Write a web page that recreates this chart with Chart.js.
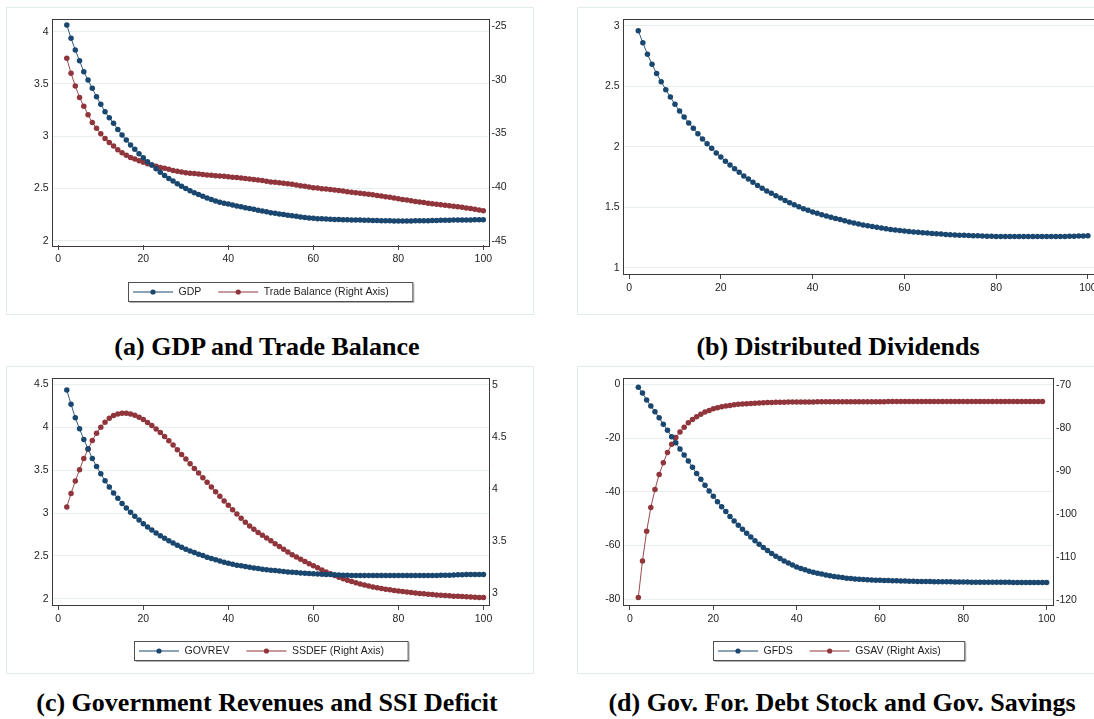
<!DOCTYPE html>
<html>
<head>
<meta charset="utf-8">
<title>Transition paths</title>
<script src="https://cdn.jsdelivr.net/npm/chart.js@4.4.1/dist/chart.umd.min.js"></script>
<style>
  html, body { margin: 0; padding: 0; background: #fff; }
  body { position: relative; width: 1094px; height: 719px; overflow: hidden; }
  .panel { position: absolute; outline: 1px solid #e2ebee; outline-offset: -1px; background: #fff; }
  .panel canvas { position: absolute; left: 0; top: 0; }
  .caption { position: absolute; width: 600px; text-align: center; white-space: nowrap;
    font: bold 26px/26px "Liberation Serif", "Times New Roman", serif; color: #000; }
</style>
</head>
<body>
<div class="panel" style="left:6px;top:7px;width:528px;height:308px"><canvas id="gdpChart" width="528" height="308"></canvas></div>
<div class="panel" style="left:577px;top:7px;width:564px;height:308px"><canvas id="divChart" width="564" height="308"></canvas></div>
<div class="panel" style="left:6px;top:366px;width:528px;height:308px"><canvas id="govChart" width="528" height="308"></canvas></div>
<div class="panel" style="left:577px;top:366px;width:540px;height:308px"><canvas id="debtChart" width="540" height="308"></canvas></div>

<div class="caption" style="left:-33px;top:334px">(a) GDP and Trade Balance</div>
<div class="caption" style="left:538px;top:334px">(b) Distributed Dividends</div>
<div class="caption" style="left:-33px;top:690px">(c) Government Revenues and SSI Deficit</div>
<div class="caption" style="left:542px;top:690px">(d) Gov. For. Debt Stock and Gov. Savings</div>

<script>
// periods 2..100
const periods = Array.from({ length: 99 }, (_, i) => i + 2);
const xTicks = [0, 20, 40, 60, 80, 100];

const gdp = [4.064, 3.936, 3.825, 3.722, 3.617, 3.537, 3.458, 3.378, 3.305, 3.234,
  3.177, 3.123, 3.065, 3.011, 2.963, 2.915, 2.874, 2.833, 2.794, 2.756,
  2.724, 2.689, 2.654, 2.625, 2.596, 2.571, 2.545, 2.520, 2.500, 2.479,
  2.460, 2.442, 2.425, 2.409, 2.394, 2.381, 2.369, 2.359, 2.351, 2.342,
  2.333, 2.324, 2.316, 2.308, 2.300, 2.292, 2.284, 2.276, 2.268, 2.262,
  2.256, 2.250, 2.244, 2.238, 2.233, 2.228, 2.223, 2.218, 2.214, 2.211,
  2.209, 2.207, 2.205, 2.203, 2.202, 2.201, 2.200, 2.199, 2.198, 2.197,
  2.196, 2.195, 2.194, 2.193, 2.192, 2.191, 2.190, 2.189, 2.189, 2.189,
  2.189, 2.189, 2.190, 2.190, 2.191, 2.192, 2.193, 2.194, 2.195, 2.196,
  2.196, 2.197, 2.197, 2.198, 2.199, 2.199, 2.200, 2.200, 2.201];

const tradeBalance = [-28.01, -29.41, -30.59, -31.65, -32.48, -33.26, -33.98, -34.53, -35.03, -35.47,
  -35.84, -36.18, -36.52, -36.80, -37.05, -37.24, -37.39, -37.55, -37.70, -37.83,
  -37.95, -38.07, -38.17, -38.26, -38.35, -38.45, -38.54, -38.60, -38.66, -38.71,
  -38.75, -38.79, -38.84, -38.88, -38.91, -38.94, -38.97, -39.00, -39.04, -39.08,
  -39.12, -39.17, -39.21, -39.25, -39.30, -39.35, -39.40, -39.46, -39.52, -39.56,
  -39.61, -39.65, -39.70, -39.75, -39.81, -39.87, -39.93, -40.00, -40.06, -40.10,
  -40.15, -40.19, -40.24, -40.28, -40.33, -40.38, -40.43, -40.48, -40.53, -40.58,
  -40.63, -40.68, -40.73, -40.78, -40.84, -40.90, -40.96, -41.03, -41.09, -41.15,
  -41.21, -41.28, -41.34, -41.40, -41.45, -41.50, -41.55, -41.60, -41.65, -41.70,
  -41.75, -41.80, -41.84, -41.89, -41.95, -42.01, -42.07, -42.14, -42.20];

const dividends = [2.961, 2.862, 2.766, 2.683, 2.606, 2.539, 2.473, 2.412, 2.352, 2.297,
  2.247, 2.197, 2.153, 2.109, 2.065, 2.026, 1.988, 1.949, 1.916, 1.880,
  1.850, 1.819, 1.789, 1.759, 1.734, 1.706, 1.681, 1.657, 1.634, 1.615,
  1.596, 1.577, 1.557, 1.538, 1.521, 1.505, 1.488, 1.475, 1.461, 1.450,
  1.439, 1.428, 1.418, 1.408, 1.398, 1.389, 1.379, 1.370, 1.361, 1.354,
  1.347, 1.340, 1.334, 1.328, 1.323, 1.317, 1.312, 1.307, 1.303, 1.299,
  1.296, 1.293, 1.290, 1.287, 1.284, 1.281, 1.278, 1.275, 1.273, 1.271,
  1.269, 1.268, 1.266, 1.265, 1.264, 1.262, 1.261, 1.260, 1.259, 1.259,
  1.258, 1.258, 1.258, 1.258, 1.258, 1.258, 1.258, 1.258, 1.258, 1.258,
  1.258, 1.258, 1.259, 1.259, 1.260, 1.261, 1.262, 1.263, 1.264];

const govrev = [4.434, 4.267, 4.109, 3.981, 3.857, 3.748, 3.636, 3.543, 3.457, 3.376,
  3.302, 3.233, 3.171, 3.112, 3.058, 3.008, 2.961, 2.919, 2.876, 2.837,
  2.802, 2.767, 2.736, 2.705, 2.678, 2.651, 2.624, 2.601, 2.578, 2.558,
  2.539, 2.519, 2.504, 2.484, 2.469, 2.454, 2.440, 2.427, 2.415, 2.403,
  2.391, 2.384, 2.376, 2.368, 2.360, 2.353, 2.345, 2.339, 2.334, 2.329,
  2.324, 2.319, 2.314, 2.310, 2.306, 2.302, 2.298, 2.294, 2.291, 2.288,
  2.286, 2.284, 2.282, 2.280, 2.278, 2.276, 2.274, 2.273, 2.272, 2.271,
  2.271, 2.271, 2.271, 2.271, 2.271, 2.271, 2.271, 2.271, 2.271, 2.271,
  2.271, 2.271, 2.271, 2.271, 2.271, 2.271, 2.272, 2.273, 2.274, 2.275,
  2.276, 2.278, 2.280, 2.281, 2.282, 2.283, 2.283, 2.283, 2.283];

const ssdef = [3.827, 3.958, 4.077, 4.185, 4.294, 4.383, 4.466, 4.537, 4.594, 4.642,
  4.680, 4.706, 4.722, 4.728, 4.728, 4.722, 4.709, 4.690, 4.668, 4.639,
  4.610, 4.578, 4.543, 4.505, 4.463, 4.422, 4.377, 4.332, 4.288, 4.243,
  4.198, 4.153, 4.109, 4.064, 4.019, 3.974, 3.930, 3.885, 3.843, 3.800,
  3.760, 3.719, 3.680, 3.645, 3.612, 3.582, 3.556, 3.529, 3.502, 3.474,
  3.447, 3.420, 3.394, 3.369, 3.346, 3.324, 3.303, 3.282, 3.262, 3.242,
  3.222, 3.203, 3.185, 3.168, 3.152, 3.137, 3.123, 3.110, 3.098, 3.087,
  3.077, 3.068, 3.059, 3.051, 3.044, 3.037, 3.031, 3.025, 3.019, 3.014,
  3.009, 3.004, 3.000, 2.996, 2.992, 2.988, 2.985, 2.982, 2.979, 2.976,
  2.973, 2.970, 2.968, 2.966, 2.964, 2.962, 2.960, 2.958, 2.956];

const gfds = [-1.1, -3.2, -5.8, -8.1, -10.2, -12.5, -14.9, -17.1, -19.5, -21.8,
  -24.1, -26.3, -28.6, -30.9, -33.2, -35.4, -37.6, -39.7, -41.7, -43.7,
  -45.6, -47.4, -49.2, -50.9, -52.5, -54.0, -55.5, -56.9, -58.3, -59.6,
  -60.8, -61.9, -63.0, -64.0, -64.9, -65.8, -66.6, -67.3, -68.0, -68.6,
  -69.1, -69.6, -70.0, -70.4, -70.7, -71.0, -71.3, -71.6, -71.8, -72.0,
  -72.2, -72.35, -72.5, -72.6, -72.7, -72.8, -72.9, -72.95, -73.0, -73.05,
  -73.1, -73.15, -73.2, -73.25, -73.3, -73.35, -73.4, -73.42, -73.44, -73.46,
  -73.48, -73.5, -73.52, -73.54, -73.56, -73.58, -73.6, -73.62, -73.64, -73.66,
  -73.68, -73.7, -73.71, -73.72, -73.73, -73.74, -73.75, -73.76, -73.77, -73.77,
  -73.78, -73.78, -73.79, -73.79, -73.8, -73.8, -73.8, -73.8, -73.8];

// GSAV stops one period earlier (2..99)
const gsav = [-119.4, -110.9, -104.0, -98.5, -94.3, -90.8, -88.1, -85.7, -83.8, -82.2,
  -80.9, -79.8, -78.8, -78.0, -77.4, -76.8, -76.3, -75.9, -75.5, -75.3,
  -75.05, -74.9, -74.75, -74.6, -74.5, -74.42, -74.35, -74.28, -74.22, -74.17,
  -74.13, -74.09, -74.06, -74.03, -74.01, -73.99, -73.97, -73.96, -73.95, -73.94,
  -73.94, -73.93, -73.93, -73.92, -73.92, -73.91, -73.91, -73.9, -73.9, -73.9,
  -73.89, -73.89, -73.89, -73.88, -73.88, -73.88, -73.87, -73.87, -73.87, -73.87,
  -73.86, -73.86, -73.86, -73.86, -73.86, -73.86, -73.86, -73.86, -73.86, -73.86,
  -73.86, -73.86, -73.86, -73.86, -73.86, -73.86, -73.86, -73.86, -73.86, -73.86,
  -73.86, -73.86, -73.86, -73.86, -73.86, -73.86, -73.86, -73.86, -73.86, -73.86,
  -73.86, -73.86, -73.86, -73.86, -73.86, -73.86, -73.86, -73.86];

const NAVY = '#1a476f';
const MAROON = '#90353b';

Chart.defaults.font.family = '"Liberation Sans", Arial, sans-serif';
Chart.defaults.font.size = 10.5;
Chart.defaults.color = '#1e1e1e';

// dark frame around the plot region
const plotFrame = {
  id: 'plotFrame',
  beforeDatasetsDraw(chart) {
    const { ctx, chartArea: a } = chart;
    ctx.save();
    ctx.strokeStyle = '#3a3a3a';
    ctx.lineWidth = 1;
    ctx.strokeRect(Math.round(a.left) + 0.5, Math.round(a.top) + 0.5,
      Math.round(a.right - a.left), Math.round(a.bottom - a.top));
    ctx.restore();
  }
};

// boxed legend with line-and-dot keys, centred under the plot
const boxLegend = {
  id: 'boxLegend',
  defaults: { show: false, top: 0 },
  afterDraw(chart, args, opts) {
    if (!opts.show) return;
    const { ctx, chartArea: a } = chart;
    ctx.save();
    ctx.font = '10.5px "Liberation Sans", Arial, sans-serif';
    const items = chart.data.datasets.map(ds => ({
      text: ds.label, color: ds.borderColor, w: ctx.measureText(ds.label).width
    }));
    let boxW = 4.5 + 24;
    items.forEach((it, i) => { boxW += 40 + 5.5 + it.w + (i < items.length - 1 ? 17 : 0); });
    const x0 = Math.round((a.left + a.right) / 2 - boxW / 2) + 0.5;
    const y0 = Math.round(opts.top) + 0.5;
    const h = 19;
    ctx.fillStyle = '#fff';
    ctx.fillRect(x0, y0, boxW, h);
    ctx.strokeStyle = '#b0b0b0';
    ctx.beginPath();
    ctx.moveTo(x0 + 1, y0 + h + 1); ctx.lineTo(x0 + boxW + 1, y0 + h + 1); ctx.lineTo(x0 + boxW + 1, y0 + 1);
    ctx.stroke();
    ctx.strokeStyle = '#505050';
    ctx.strokeRect(x0, y0, boxW, h);
    const cy = y0 + h / 2;
    let x = x0 + 4.5;
    items.forEach(it => {
      ctx.strokeStyle = it.color;
      ctx.lineWidth = 1;
      ctx.beginPath(); ctx.moveTo(x, cy); ctx.lineTo(x + 40, cy); ctx.stroke();
      ctx.fillStyle = it.color;
      ctx.beginPath(); ctx.arc(x + 20, cy, 2.6, 0, Math.PI * 2); ctx.fill();
      x += 45.5;
      ctx.fillStyle = '#1e1e1e';
      ctx.textBaseline = 'middle';
      ctx.fillText(it.text, x, cy + 0.5);
      x += it.w + 17;
    });
    ctx.restore();
  }
};

Chart.register(plotFrame, boxLegend);

function series(label, values, color, axis) {
  return {
    label,
    data: values.map((v, i) => ({ x: periods[i], y: v })),
    yAxisID: axis,
    borderColor: color,
    backgroundColor: color,
    borderWidth: 0.9,
    pointRadius: 2.75,
    pointBorderWidth: 0,
    pointBackgroundColor: color,
    pointHoverRadius: 2.75,
    tension: 0
  };
}

function valueAxis(pos, min, max, ticks, width, withGrid) {
  return {
    type: 'linear',
    position: pos,
    min, max,
    afterBuildTicks: s => { s.ticks = ticks.map(v => ({ value: v })); },
    afterFit: s => { s.width = width; },
    grid: { display: withGrid, drawOnChartArea: withGrid, drawTicks: false, color: '#e6eef0', lineWidth: 1 },
    border: { display: false },
    ticks: { padding: 3, callback: v => String(v) }
  };
}

function drawPanel(id, o) {
  const scales = {
    x: {
      type: 'linear',
      min: o.xMin, max: o.xMax,
      afterBuildTicks: s => { s.ticks = xTicks.map(v => ({ value: v })); },
      afterFit: s => { s.height = o.gap.b; },
      grid: { display: true, drawOnChartArea: false, drawTicks: true, tickLength: 5, color: '#4a4a4a' },
      border: { display: false },
      ticks: { padding: 3, maxRotation: 0, callback: v => String(v) }
    },
    y: valueAxis('left', o.y.min, o.y.max, o.y.ticks, o.gap.l, true)
  };
  if (o.y1) scales.y1 = valueAxis('right', o.y1.min, o.y1.max, o.y1.ticks, o.gap.r, false);

  return new Chart(document.getElementById(id), {
    type: 'line',
    data: { datasets: o.datasets },
    options: {
      responsive: false,
      devicePixelRatio: 1,
      animation: false,
      events: [],
      layout: { padding: { top: o.gap.t, right: o.y1 ? 0 : o.gap.r, left: 0, bottom: 0 } },
      plugins: {
        legend: { display: false },
        tooltip: { enabled: false },
        boxLegend: { show: !!o.legendTop, top: o.legendTop || 0 }
      },
      scales
    }
  });
}

drawPanel('gdpChart', {
  gap: { l: 45.7, r: 45.6, t: 11.5, b: 70 },
  xMin: -1.55, xMax: 101.2,
  y: { min: 1.959, max: 4.126, ticks: [2, 2.5, 3, 3.5, 4] },
  y1: { min: -45.40, max: -24.30, ticks: [-45, -40, -35, -30, -25] },
  legendTop: 274.7,
  datasets: [
    series('GDP', gdp, NAVY, 'y'),
    series('Trade Balance (Right Axis)', tradeBalance, MAROON, 'y1')
  ]
});

drawPanel('divChart', {
  gap: { l: 45.7, r: 46.2, t: 11.7, b: 41 },
  xMin: -1.39, xMax: 101.5,
  y: { min: 0.948, max: 3.06, ticks: [1, 1.5, 2, 2.5, 3] },
  datasets: [series('Dividends', dividends, NAVY, 'y')]
});

drawPanel('govChart', {
  gap: { l: 45.7, r: 45, t: 11.7, b: 69 },
  xMin: -1.55, xMax: 101.3,
  y: { min: 1.928, max: 4.577, ticks: [2, 2.5, 3, 3.5, 4, 4.5] },
  y1: { min: 2.885, max: 5.07, ticks: [3, 3.5, 4, 4.5, 5] },
  legendTop: 274.7,
  datasets: [
    series('GOVREV', govrev, NAVY, 'y'),
    series('SSDEF (Right Axis)', ssdef, MAROON, 'y1')
  ]
});

drawPanel('debtChart', {
  gap: { l: 46.4, r: 64.1, t: 11.7, b: 69 },
  xMin: -1.58, xMax: 101.5,
  y: { min: -82.2, max: 2.46, ticks: [-80, -60, -40, -20, 0] },
  y1: { min: -121.16, max: -68.3, ticks: [-120, -110, -100, -90, -80, -70] },
  legendTop: 274.7,
  datasets: [
    series('GFDS', gfds, NAVY, 'y'),
    series('GSAV (Right Axis)', gsav, MAROON, 'y1')
  ]
});
</script>
</body>
</html>
